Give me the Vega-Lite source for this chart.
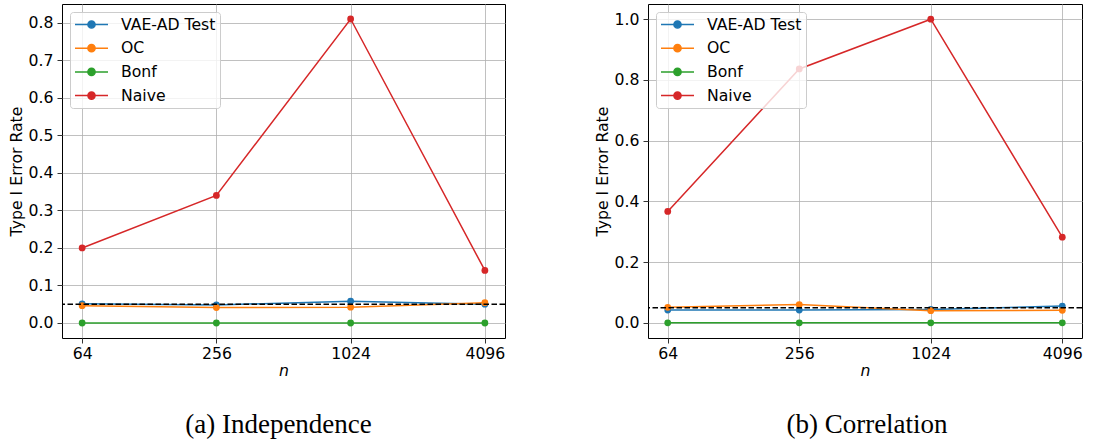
{
  "$schema": "https://vega.github.io/schema/vega-lite/v6.json",
  "background": "white",
  "padding": {"left": 7, "top": 3, "right": 5, "bottom": 5},
  "config": {
    "font": "DejaVu Sans",
    "view": {"stroke": "#000000", "strokeWidth": 1},
    "axis": {
      "domain": false, "grid": true, "gridColor": "#b0b0b0", "gridWidth": 0.8,
      "tickColor": "#000000", "tickSize": 5, "tickWidth": 0.8,
      "labelFont": "DejaVu Sans", "labelFontSize": 15.7, "labelColor": "#000000",
      "titleFont": "DejaVu Sans", "titleFontSize": 15.7, "titleFontWeight": "normal", "titleColor": "#000000",
      "labelPadding": 4
    },
    "legend": {
      "title": null, "orient": "top-left", "offset": 8,
      "symbolType": "M-2.2,0L2.2,0M-0.48,0A0.48,0.48 0 1,0 0.48,0A0.48,0.48 0 1,0 -0.48,0Z",
      "symbolSize": 225, "symbolStrokeWidth": 1.5, "symbolOffset": 9,
      "labelFont": "DejaVu Sans", "labelFontSize": 15.7, "labelColor": "#000000", "labelOffset": 21,
      "padding": 4, "rowPadding": 6.7, "fillColor": "rgba(255,255,255,0.8)", "strokeColor": "#cccccc", "cornerRadius": 3
    },
    "title": {"font": "Liberation Serif", "fontSize": 27, "fontWeight": "normal", "orient": "bottom", "color": "#000000"}
  },
  "data": {"values": [
    {"panel": "a", "series": "VAE-AD Test", "n": 64, "value": 0.051},
    {"panel": "a", "series": "VAE-AD Test", "n": 256, "value": 0.048},
    {"panel": "a", "series": "VAE-AD Test", "n": 1024, "value": 0.058},
    {"panel": "a", "series": "VAE-AD Test", "n": 4096, "value": 0.05},
    {"panel": "a", "series": "OC", "n": 64, "value": 0.046},
    {"panel": "a", "series": "OC", "n": 256, "value": 0.041},
    {"panel": "a", "series": "OC", "n": 1024, "value": 0.042},
    {"panel": "a", "series": "OC", "n": 4096, "value": 0.054},
    {"panel": "a", "series": "Bonf", "n": 64, "value": 0},
    {"panel": "a", "series": "Bonf", "n": 256, "value": 0},
    {"panel": "a", "series": "Bonf", "n": 1024, "value": 0},
    {"panel": "a", "series": "Bonf", "n": 4096, "value": 0},
    {"panel": "a", "series": "Naive", "n": 64, "value": 0.2},
    {"panel": "a", "series": "Naive", "n": 256, "value": 0.34},
    {"panel": "a", "series": "Naive", "n": 1024, "value": 0.81},
    {"panel": "a", "series": "Naive", "n": 4096, "value": 0.14},
    {"panel": "b", "series": "VAE-AD Test", "n": 64, "value": 0.042},
    {"panel": "b", "series": "VAE-AD Test", "n": 256, "value": 0.042},
    {"panel": "b", "series": "VAE-AD Test", "n": 1024, "value": 0.044},
    {"panel": "b", "series": "VAE-AD Test", "n": 4096, "value": 0.055},
    {"panel": "b", "series": "OC", "n": 64, "value": 0.051},
    {"panel": "b", "series": "OC", "n": 256, "value": 0.06},
    {"panel": "b", "series": "OC", "n": 1024, "value": 0.04},
    {"panel": "b", "series": "OC", "n": 4096, "value": 0.041},
    {"panel": "b", "series": "Bonf", "n": 64, "value": 0},
    {"panel": "b", "series": "Bonf", "n": 256, "value": 0},
    {"panel": "b", "series": "Bonf", "n": 1024, "value": 0},
    {"panel": "b", "series": "Bonf", "n": 4096, "value": 0},
    {"panel": "b", "series": "Naive", "n": 64, "value": 0.367},
    {"panel": "b", "series": "Naive", "n": 256, "value": 0.836},
    {"panel": "b", "series": "Naive", "n": 1024, "value": 1.0},
    {"panel": "b", "series": "Naive", "n": 4096, "value": 0.282}
  ]},
  "bounds": "flush",
  "spacing": 143,
  "resolve": {"scale": {"color": "shared"}, "legend": {"color": "independent"}},
  "hconcat": [
    {
      "width": 443, "height": 334,
      "title": {"text": "(a) Independence", "offset": 34, "dx": -5},
      "transform": [{"filter": "datum.panel == 'a'"}],
      "layer": [
        {
          "mark": {"type": "line", "strokeWidth": 1.5},
          "encoding": {
            "x": {"field": "n", "type": "quantitative", "scale": {"type": "log", "base": 2, "domain": [51.98, 5042], "nice": false}, "axis": {"values": [64, 256, 1024, 4096], "format": "d", "title": "n", "titleFontStyle": "italic", "labelPadding": 3, "titlePadding": 3, "labelFlush": false, "labelOverlap": false}},
            "y": {"field": "value", "type": "quantitative", "scale": {"domain": [-0.04, 0.85], "nice": false, "zero": false}, "axis": {"values": [0, 0.1, 0.2, 0.3, 0.4, 0.5, 0.6, 0.7, 0.8], "format": ".1f", "title": "Type I Error Rate", "titlePadding": 4}},
            "color": {"field": "series", "type": "nominal", "title": null,
              "scale": {"domain": ["VAE-AD Test", "OC", "Bonf", "Naive"], "range": ["#1f77b4", "#ff7f0e", "#2ca02c", "#d62728"]},
              "legend": {"encode": {"symbols": {"update": {"fill": {"scale": "color", "field": "value"}, "stroke": {"scale": "color", "field": "value"}}}}}
            }
          }
        },
        {
          "mark": {"type": "point", "filled": true, "size": 46, "opacity": 1},
          "encoding": {
            "x": {"field": "n", "type": "quantitative"},
            "y": {"field": "value", "type": "quantitative"},
            "color": {"field": "series", "type": "nominal", "title": null,
              "legend": {"encode": {"symbols": {"update": {"fill": {"scale": "color", "field": "value"}, "stroke": {"scale": "color", "field": "value"}}}}}
            }
          }
        },
        {
          "data": {"values": [{"ref": 0.05}]},
          "mark": {"type": "rule", "strokeDash": [5.5, 2.5], "strokeWidth": 1.5, "color": "#000000"},
          "encoding": {"y": {"field": "ref", "type": "quantitative"}}
        }
      ]
    },
    {
      "width": 434, "height": 334,
      "title": {"text": "(b) Correlation", "offset": 34, "dx": 2},
      "transform": [{"filter": "datum.panel == 'b'"}],
      "layer": [
        {
          "mark": {"type": "line", "strokeWidth": 1.5},
          "encoding": {
            "x": {"field": "n", "type": "quantitative", "scale": {"type": "log", "base": 2, "domain": [51.98, 5042], "nice": false}, "axis": {"values": [64, 256, 1024, 4096], "format": "d", "title": "n", "titleFontStyle": "italic", "labelPadding": 3, "titlePadding": 3, "labelFlush": false, "labelOverlap": false}},
            "y": {"field": "value", "type": "quantitative", "scale": {"domain": [-0.05, 1.05], "nice": false, "zero": false}, "axis": {"values": [0, 0.2, 0.4, 0.6, 0.8, 1.0], "format": ".1f", "title": "Type I Error Rate", "titlePadding": 4}},
            "color": {"field": "series", "type": "nominal", "title": null,
              "scale": {"domain": ["VAE-AD Test", "OC", "Bonf", "Naive"], "range": ["#1f77b4", "#ff7f0e", "#2ca02c", "#d62728"]},
              "legend": {"encode": {"symbols": {"update": {"fill": {"scale": "color", "field": "value"}, "stroke": {"scale": "color", "field": "value"}}}}}
            }
          }
        },
        {
          "mark": {"type": "point", "filled": true, "size": 46, "opacity": 1},
          "encoding": {
            "x": {"field": "n", "type": "quantitative"},
            "y": {"field": "value", "type": "quantitative"},
            "color": {"field": "series", "type": "nominal", "title": null,
              "legend": {"encode": {"symbols": {"update": {"fill": {"scale": "color", "field": "value"}, "stroke": {"scale": "color", "field": "value"}}}}}
            }
          }
        },
        {
          "data": {"values": [{"ref": 0.05}]},
          "mark": {"type": "rule", "strokeDash": [5.5, 2.5], "strokeWidth": 1.5, "color": "#000000"},
          "encoding": {"y": {"field": "ref", "type": "quantitative"}}
        }
      ]
    }
  ]
}
